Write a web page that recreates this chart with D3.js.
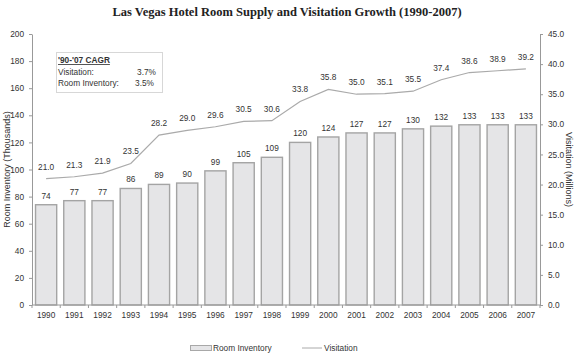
<!DOCTYPE html>
<html><head><meta charset="utf-8">
<script src="https://cdn.jsdelivr.net/npm/d3@7"></script>
<style>body{margin:0;background:#fff}svg{display:block;font-family:"Liberation Sans",Arial,sans-serif}</style>
</head><body><svg id="c" width="575" height="354"></svg>
<script>
const years = ["1990","1991","1992","1993","1994","1995","1996","1997","1998","1999","2000","2001","2002","2003","2004","2005","2006","2007"];
const rooms = [74,77,77,86,89,90,99,105,109,120,124,127,127,130,132,133,133,133];
const visits = [21.0,21.3,21.9,23.5,28.2,29.0,29.6,30.5,30.6,33.8,35.8,35.0,35.1,35.5,37.4,38.6,38.9,39.2];
const leftTicks = [0,20,40,60,80,100,120,140,160,180,200];
const rightTicks = [0,5,10,15,20,25,30,35,40,45];

const svg = d3.select("#c");
const L = 32, R = 540, T = 34, B = 305;
const FS = 8.3;
const x = d3.scaleBand().domain(years).range([L, R]).paddingInner(0.25).paddingOuter(0.125);
const yL = d3.scaleLinear().domain([0,200]).range([B, T]);
const yR = d3.scaleLinear().domain([0,45]).range([B, T]);
const txt = "#333", ax = "#999";

svg.append("text").attr("x",287).attr("y",16).attr("text-anchor","middle")
  .attr("font-family","'Liberation Serif','Times New Roman',serif").attr("font-weight","bold")
  .attr("font-size",12.5).attr("fill","#222").text("Las Vegas Hotel Room Supply and Visitation Growth (1990-2007)");

// bars
svg.append("g").selectAll("rect").data(rooms).join("rect")
  .attr("x",(d,i)=>x(years[i])).attr("width",x.bandwidth())
  .attr("y",d=>yL(d)).attr("height",d=>B-yL(d))
  .attr("fill","#e5e5e7").attr("stroke","#a4a4a4").attr("stroke-width",1.4);
svg.append("g").selectAll("text").data(rooms).join("text")
  .attr("x",(d,i)=>x(years[i])+x.bandwidth()/2).attr("y",d=>yL(d)-6)
  .attr("text-anchor","middle").attr("font-size",FS).attr("fill",txt).text(d=>d);

// line
const line = d3.line().x((d,i)=>x(years[i])+x.bandwidth()/2).y(d=>yR(d));
svg.append("path").datum(visits).attr("d",line).attr("fill","none").attr("stroke","#aaa").attr("stroke-width",1.2);
svg.append("g").selectAll("text").data(visits).join("text")
  .attr("x",(d,i)=>x(years[i])+x.bandwidth()/2).attr("y",d=>yR(d)-9)
  .attr("text-anchor","middle").attr("font-size",FS).attr("fill",txt).text(d=>d.toFixed(1));

// axes
function style(g){
  g.select(".domain").attr("stroke",ax);
  g.selectAll(".tick line").attr("stroke",ax);
  g.selectAll(".tick text").attr("fill",txt).attr("font-size",FS).attr("font-family","'Liberation Sans',Arial,sans-serif");
}
svg.append("g").attr("transform",`translate(${L},0)`)
  .call(d3.axisLeft(yL).tickValues(leftTicks).tickSize(3).tickSizeOuter(0).tickPadding(5)).call(style);
svg.append("g").attr("transform",`translate(${R},0)`)
  .call(d3.axisRight(yR).tickValues(rightTicks).tickFormat(d3.format(".1f")).tickSize(3).tickSizeOuter(0).tickPadding(5)).call(style);
const xg = svg.append("g").attr("transform",`translate(0,${B})`)
  .call(d3.axisBottom(x).tickSize(0).tickPadding(7)).call(style);
xg.select(".domain").attr("d",`M${L},0H${R}`);
// band boundary ticks
svg.append("g").selectAll("line").data(d3.range(years.length+1)).join("line")
  .attr("x1",i=>L+i*(R-L)/years.length).attr("x2",i=>L+i*(R-L)/years.length)
  .attr("y1",B).attr("y2",B+3).attr("stroke",ax);

// axis titles
svg.append("text").attr("transform",`translate(10,${(T+B)/2}) rotate(-90)`).attr("text-anchor","middle")
  .attr("font-size",9).attr("fill",txt).text("Room Inventory (Thousands)");
svg.append("text").attr("transform",`translate(566,${(T+B)/2}) rotate(90)`).attr("text-anchor","middle")
  .attr("font-size",9).attr("fill",txt).text("Visitation (Millions)");

// CAGR box
const bx = svg.append("g");
bx.append("rect").attr("x",56.5).attr("y",52.5).attr("width",106).attr("height",40)
  .attr("fill","#fff").attr("stroke","#999").attr("stroke-dasharray","1,1").attr("stroke-width",0.8);
bx.append("text").attr("x",58).attr("y",63).attr("font-size",FS).attr("font-weight","bold").attr("fill",txt)
  .attr("text-decoration","underline").text("'90-'07 CAGR");
bx.append("text").attr("x",58).attr("y",75).attr("font-size",FS).attr("fill",txt).text("Visitation:");
bx.append("text").attr("x",156).attr("y",75).attr("text-anchor","end").attr("font-size",FS).attr("fill",txt).text("3.7%");
bx.append("text").attr("x",58).attr("y",86).attr("font-size",FS).attr("fill",txt).text("Room Inventory:");
bx.append("text").attr("x",154).attr("y",86).attr("text-anchor","end").attr("font-size",FS).attr("fill",txt).text("3.5%");

// legend
const lg = svg.append("g");
lg.append("rect").attr("x",190.5).attr("y",345.5).attr("width",21).attr("height",5)
  .attr("fill","#e5e5e7").attr("stroke","#a8a8a8");
lg.append("text").attr("x",213).attr("y",351).attr("font-size",FS).attr("fill",txt).text("Room Inventory");
lg.append("line").attr("x1",302).attr("x2",322).attr("y1",348).attr("y2",348).attr("stroke","#aaa");
lg.append("text").attr("x",324).attr("y",351).attr("font-size",FS).attr("fill",txt).text("Visitation");
</script></body></html>
